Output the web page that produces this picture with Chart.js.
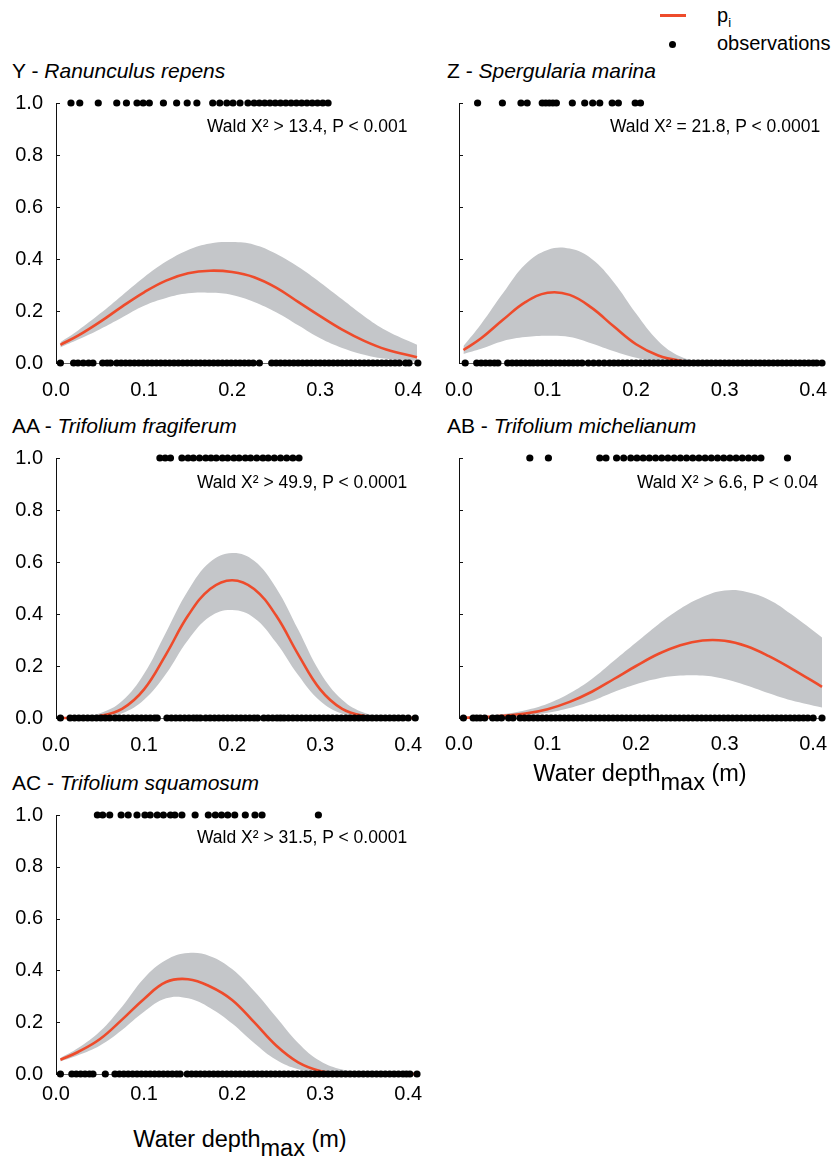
<!DOCTYPE html>
<html>
<head>
<meta charset="utf-8">
<script src="https://cdn.jsdelivr.net/npm/chart.js@4.4.1/dist/chart.umd.min.js"></script>
<style>
  body { margin: 0; background: #fff; font-family: "Liberation Sans", Arial, sans-serif; color: #000; }
  #page { position: relative; width: 835px; height: 1160px; overflow: hidden; }
  canvas { position: absolute; }
  .txt { position: absolute; white-space: nowrap; }
  .title { font-size: 21px; line-height: 21px; }
  .wald { font-size: 17.5px; line-height: 17.5px; }
  .axis-title { font-size: 23.5px; line-height: 23.5px; width: 300px; text-align: center; }
  .axis-title sub { font-size: 23.5px; vertical-align: -9px; line-height: 0; }
  .leg { font-size: 20px; line-height: 20px; }
  .leg sub { font-size: 13px; vertical-align: -5px; line-height: 0; }
  #legLine { position: absolute; left: 660px; top: 13.5px; width: 26px; height: 3px; background: #ee4b2b; }
  #legDot { position: absolute; left: 668.5px; top: 40.5px; width: 7px; height: 7px; border-radius: 50%; background: #000; }
</style>
</head>
<body>
<div id="page">
  <!-- leyenda -->
  <div id="legLine"></div>
  <div class="txt leg" style="left:717px; top:4.5px;">p<sub>i</sub></div>
  <div id="legDot"></div>
  <div class="txt leg" style="left:717px; top:32.5px;">observations</div>

  <!-- titulos de panel -->
  <div class="txt title" style="left:12px; top:60px;">Y - <i>Ranunculus repens</i></div>
  <div class="txt title" style="left:447px; top:60px;">Z - <i>Spergularia marina</i></div>
  <div class="txt title" style="left:12px; top:415px;">AA - <i>Trifolium fragiferum</i></div>
  <div class="txt title" style="left:447px; top:415px;">AB - <i>Trifolium michelianum</i></div>
  <div class="txt title" style="left:12px; top:772px;">AC - <i>Trifolium squamosum</i></div>

  <canvas id="cY" width="430" height="320" style="left:0px; top:90px;"></canvas>
  <canvas id="cZ" width="405" height="320" style="left:430px; top:90px;"></canvas>
  <canvas id="cAA" width="430" height="320" style="left:0px; top:445px;"></canvas>
  <canvas id="cAB" width="405" height="320" style="left:430px; top:445px;"></canvas>
  <canvas id="cAC" width="430" height="320" style="left:0px; top:802px;"></canvas>

  <!-- estadisticos -->
  <div class="txt wald" style="left:207px; top:118px;">Wald Χ² &gt; 13.4, P &lt; 0.001</div>
  <div class="txt wald" style="left:610px; top:118px;">Wald Χ² = 21.8, P &lt; 0.0001</div>
  <div class="txt wald" style="left:197px; top:473.5px;">Wald Χ² &gt; 49.9, P &lt; 0.0001</div>
  <div class="txt wald" style="left:637px; top:473.5px;">Wald Χ² &gt; 6.6, P &lt; 0.04</div>
  <div class="txt wald" style="left:197px; top:828.5px;">Wald Χ² &gt; 31.5, P &lt; 0.0001</div>

  <!-- titulos de eje -->
  <div class="txt axis-title" style="left:490px; top:762px;">Water depth<sub>max</sub> (m)</div>
  <div class="txt axis-title" style="left:90px; top:1128px;">Water depth<sub>max</sub> (m)</div>
</div>

<script>
// Ejes
const xTicks = [0, 0.1, 0.2, 0.3, 0.4];
const yTicks = [0, 0.2, 0.4, 0.6, 0.8, 1.0];

// Profundidad donde se evalua el modelo
const depthGrid = [0.005, 0.025, 0.05, 0.075, 0.1, 0.125, 0.15, 0.175, 0.2, 0.225, 0.25, 0.275, 0.3, 0.325, 0.35, 0.375, 0.41];

// Y - Ranunculus repens
const ranunculusFit  = [0.070, 0.105, 0.158, 0.217, 0.272, 0.317, 0.345, 0.355, 0.350, 0.330, 0.290, 0.235, 0.180, 0.128, 0.085, 0.052, 0.022];
const ranunculusLow  = [0.060, 0.090, 0.130, 0.175, 0.220, 0.250, 0.268, 0.270, 0.262, 0.235, 0.195, 0.145, 0.095, 0.058, 0.032, 0.016, 0.006];
const ranunculusHigh = [0.080, 0.125, 0.190, 0.260, 0.330, 0.390, 0.435, 0.460, 0.465, 0.455, 0.420, 0.370, 0.310, 0.245, 0.180, 0.125, 0.070];
const ranunculusPresent = [0.017, 0.027, 0.048, 0.069, 0.080, 0.092, 0.099, 0.106, 0.122, 0.137, 0.149, 0.160, 0.178, 0.186, 0.194, 0.201, 0.209, 0.218, 0.225, 0.231, 0.237, 0.243, 0.249, 0.255, 0.261, 0.267, 0.273, 0.279, 0.285, 0.291, 0.297, 0.303, 0.309];
const ranunculusAbsent = [0.005, 0.020, 0.025, 0.031, 0.037, 0.042, 0.053, 0.058, 0.062, 0.069, 0.074, 0.079, 0.084, 0.089, 0.094, 0.099, 0.104, 0.109, 0.114, 0.119, 0.124, 0.129, 0.134, 0.139, 0.144, 0.149, 0.154, 0.159, 0.164, 0.169, 0.174, 0.179, 0.184, 0.189, 0.194, 0.199, 0.204, 0.209, 0.214, 0.219, 0.224, 0.231, 0.245, 0.250, 0.255, 0.260, 0.265, 0.270, 0.275, 0.280, 0.285, 0.290, 0.295, 0.300, 0.305, 0.310, 0.315, 0.320, 0.325, 0.330, 0.335, 0.340, 0.345, 0.350, 0.355, 0.360, 0.365, 0.370, 0.375, 0.380, 0.385, 0.390, 0.397, 0.401, 0.411];

// Z - Spergularia marina
const spergulariaFit  = [0.050, 0.095, 0.167, 0.234, 0.270, 0.262, 0.212, 0.140, 0.072, 0.029, 0.009, 0.002, 0.001, 0, 0, 0, 0];
const spergulariaLow  = [0.035, 0.055, 0.085, 0.100, 0.105, 0.100, 0.075, 0.045, 0.020, 0.006, 0.001, 0, 0, 0, 0, 0, 0];
const spergulariaHigh = [0.065, 0.150, 0.270, 0.380, 0.435, 0.440, 0.400, 0.310, 0.190, 0.085, 0.025, 0.004, 0.001, 0, 0, 0, 0];
const spergulariaPresent = [0.021, 0.049, 0.070, 0.077, 0.094, 0.098, 0.102, 0.106, 0.110, 0.128, 0.142, 0.151, 0.159, 0.173, 0.180, 0.199, 0.205];
const spergulariaAbsent = [0.007, 0.020, 0.025, 0.030, 0.035, 0.040, 0.044, 0.055, 0.060, 0.065, 0.070, 0.075, 0.080, 0.084, 0.089, 0.094, 0.099, 0.104, 0.109, 0.114, 0.119, 0.124, 0.129, 0.134, 0.139, 0.146, 0.152, 0.158, 0.164, 0.170, 0.175, 0.180, 0.185, 0.190, 0.195, 0.200, 0.205, 0.210, 0.215, 0.220, 0.225, 0.230, 0.235, 0.240, 0.245, 0.250, 0.255, 0.260, 0.265, 0.270, 0.275, 0.280, 0.285, 0.290, 0.295, 0.300, 0.305, 0.310, 0.315, 0.320, 0.325, 0.330, 0.335, 0.340, 0.345, 0.350, 0.355, 0.360, 0.365, 0.370, 0.375, 0.380, 0.385, 0.390, 0.395, 0.400, 0.404, 0.410];

// AA - Trifolium fragiferum
const fragiferumFit  = [0, 0.001, 0.008, 0.035, 0.110, 0.245, 0.394, 0.496, 0.530, 0.496, 0.394, 0.245, 0.110, 0.035, 0.008, 0.001, 0];
const fragiferumLow  = [0, 0, 0.003, 0.018, 0.070, 0.170, 0.300, 0.390, 0.415, 0.385, 0.290, 0.165, 0.065, 0.016, 0.003, 0, 0];
const fragiferumHigh = [0.001, 0.004, 0.018, 0.065, 0.170, 0.330, 0.490, 0.600, 0.635, 0.605, 0.500, 0.340, 0.175, 0.070, 0.020, 0.004, 0];
const fragiferumPresent = [0.118, 0.124, 0.130, 0.143, 0.150, 0.156, 0.163, 0.170, 0.176, 0.182, 0.189, 0.195, 0.202, 0.208, 0.215, 0.221, 0.228, 0.235, 0.241, 0.248, 0.255, 0.262, 0.269, 0.276];
const fragiferumAbsent = [0.005, 0.016, 0.021, 0.026, 0.031, 0.036, 0.041, 0.046, 0.051, 0.056, 0.061, 0.067, 0.072, 0.077, 0.082, 0.087, 0.092, 0.097, 0.102, 0.107, 0.112, 0.115, 0.126, 0.131, 0.136, 0.141, 0.146, 0.151, 0.156, 0.160, 0.164, 0.170, 0.175, 0.180, 0.185, 0.190, 0.195, 0.200, 0.205, 0.210, 0.215, 0.220, 0.225, 0.229, 0.236, 0.241, 0.246, 0.251, 0.255, 0.259, 0.264, 0.269, 0.274, 0.279, 0.284, 0.289, 0.294, 0.299, 0.304, 0.309, 0.314, 0.319, 0.324, 0.329, 0.334, 0.339, 0.344, 0.349, 0.354, 0.359, 0.364, 0.369, 0.374, 0.379, 0.384, 0.389, 0.394, 0.400, 0.408];

// AB - Trifolium michelianum
const michelianumFit  = [0.001, 0.003, 0.008, 0.017, 0.034, 0.062, 0.101, 0.150, 0.200, 0.246, 0.280, 0.298, 0.297, 0.276, 0.238, 0.191, 0.120];
const michelianumLow  = [0.0005, 0.001, 0.004, 0.009, 0.020, 0.038, 0.065, 0.100, 0.130, 0.152, 0.163, 0.163, 0.150, 0.125, 0.095, 0.068, 0.040];
const michelianumHigh = [0.003, 0.007, 0.015, 0.030, 0.055, 0.095, 0.150, 0.220, 0.290, 0.360, 0.420, 0.465, 0.490, 0.485, 0.455, 0.400, 0.310];
const michelianumPresent = [0.080, 0.101, 0.159, 0.166, 0.178, 0.186, 0.194, 0.201, 0.208, 0.215, 0.222, 0.229, 0.236, 0.243, 0.250, 0.257, 0.264, 0.271, 0.278, 0.285, 0.292, 0.299, 0.306, 0.313, 0.320, 0.327, 0.334, 0.341, 0.371];
const michelianumAbsent = [0.005, 0.016, 0.020, 0.024, 0.029, 0.038, 0.043, 0.048, 0.056, 0.061, 0.069, 0.074, 0.079, 0.084, 0.089, 0.094, 0.099, 0.104, 0.109, 0.114, 0.119, 0.124, 0.129, 0.134, 0.139, 0.144, 0.149, 0.154, 0.159, 0.164, 0.169, 0.174, 0.179, 0.184, 0.189, 0.194, 0.199, 0.204, 0.209, 0.214, 0.219, 0.224, 0.229, 0.234, 0.239, 0.244, 0.249, 0.254, 0.259, 0.264, 0.269, 0.274, 0.279, 0.284, 0.289, 0.294, 0.299, 0.304, 0.309, 0.314, 0.319, 0.324, 0.329, 0.334, 0.339, 0.344, 0.349, 0.354, 0.359, 0.364, 0.369, 0.374, 0.379, 0.384, 0.389, 0.394, 0.400, 0.410];

// AC - Trifolium squamosum
const squamosumFit  = [0.055, 0.085, 0.135, 0.210, 0.290, 0.355, 0.366, 0.338, 0.286, 0.200, 0.110, 0.045, 0.012, 0.003, 0.001, 0, 0];
const squamosumLow  = [0.048, 0.072, 0.110, 0.170, 0.240, 0.292, 0.292, 0.255, 0.195, 0.120, 0.055, 0.018, 0.004, 0.001, 0, 0, 0];
const squamosumHigh = [0.062, 0.100, 0.165, 0.260, 0.370, 0.440, 0.467, 0.455, 0.405, 0.320, 0.220, 0.120, 0.050, 0.017, 0.005, 0.001, 0];
const squamosumPresent = [0.047, 0.053, 0.061, 0.074, 0.082, 0.092, 0.101, 0.107, 0.115, 0.122, 0.130, 0.135, 0.143, 0.158, 0.173, 0.181, 0.188, 0.195, 0.203, 0.215, 0.226, 0.234, 0.298];
const squamosumAbsent = [0.005, 0.018, 0.023, 0.028, 0.033, 0.038, 0.042, 0.056, 0.067, 0.072, 0.077, 0.082, 0.087, 0.092, 0.097, 0.102, 0.107, 0.112, 0.117, 0.122, 0.127, 0.132, 0.137, 0.141, 0.149, 0.154, 0.159, 0.164, 0.169, 0.174, 0.179, 0.184, 0.189, 0.194, 0.199, 0.204, 0.209, 0.214, 0.219, 0.224, 0.229, 0.234, 0.239, 0.244, 0.249, 0.254, 0.259, 0.264, 0.269, 0.274, 0.279, 0.284, 0.289, 0.294, 0.299, 0.304, 0.309, 0.314, 0.319, 0.324, 0.329, 0.334, 0.339, 0.344, 0.349, 0.354, 0.359, 0.364, 0.369, 0.374, 0.379, 0.384, 0.389, 0.394, 0.398, 0.402, 0.410];

const FONT = '"Liberation Sans", Arial, sans-serif';
const RED = '#ee4b2b';
const BAND = '#c4c6c9';

// Marcas cortas hacia adentro del eje Y
const innerTicks = {
    id: 'innerTicks',
    beforeDatasetsDraw(chart) {
        const { ctx, scales: { y } } = chart;
        ctx.save();
        ctx.strokeStyle = '#111';
        ctx.lineWidth = 1;
        yTicks.forEach(v => {
            const py = Math.round(y.getPixelForValue(v)) + 0.5;
            ctx.beginPath();
            ctx.moveTo(y.right, py);
            ctx.lineTo(y.right + 4, py);
            ctx.stroke();
        });
        ctx.restore();
    }
};

function toPoints(xs, ys) {
    return xs.map((x, i) => ({ x: x, y: ys[i] }));
}

// Dibuja un panel
function drawPanel(canvasId, fit, low, high, present, absent, cfg) {
    const canvas = document.getElementById(canvasId);
    const obs = present.map(x => ({ x: x, y: 1 })).concat(absent.map(x => ({ x: x, y: 0 })));

    return new Chart(canvas, {
        type: 'line',
        data: {
            datasets: [
                {
                    label: 'observations',
                    data: obs,
                    showLine: false,
                    pointRadius: 3.6,
                    pointBackgroundColor: '#000',
                    pointBorderWidth: 0,
                    clip: false
                },
                {
                    label: 'pi',
                    data: toPoints(depthGrid, fit),
                    borderColor: RED,
                    borderWidth: 2.6,
                    pointRadius: 0,
                    tension: 0.4,
                    fill: false,
                    clip: false
                },
                {
                    label: 'upper',
                    data: toPoints(depthGrid, high),
                    borderColor: 'rgba(0,0,0,0)',
                    borderWidth: 0,
                    pointRadius: 0,
                    backgroundColor: BAND,
                    tension: 0.4,
                    fill: '+1'
                },
                {
                    label: 'lower',
                    data: toPoints(depthGrid, low),
                    borderColor: 'rgba(0,0,0,0)',
                    borderWidth: 0,
                    pointRadius: 0,
                    tension: 0.4,
                    fill: false
                }
            ]
        },
        options: {
            responsive: false,
            animation: false,
            layout: { padding: { top: 13, right: 13, left: 0, bottom: 0 } },
            plugins: {
                legend: { display: false },
                tooltip: { enabled: false }
            },
            scales: {
                x: {
                    type: 'linear',
                    min: 0,
                    max: 0.41,
                    afterFit: s => {
                        s.height = cfg.xHeight;
                        s.paddingLeft = 0;
                        s.paddingRight = 0;
                    },
                    afterBuildTicks: s => { s.ticks = xTicks.map(v => ({ value: v })); },
                    grid: { display: false, drawTicks: false },
                    border: { display: true, color: '#6a6a6a', width: 1 },
                    ticks: {
                        padding: cfg.xPad,
                        color: '#000',
                        autoSkip: false,
                        maxRotation: 0,
                        font: { size: 20, family: FONT },
                        callback: v => v.toFixed(1)
                    }
                },
                y: {
                    type: 'linear',
                    min: 0,
                    max: 1,
                    afterFit: s => {
                        s.width = cfg.yWidth;
                        s.paddingTop = 0;
                        s.paddingBottom = 0;
                    },
                    afterBuildTicks: s => { s.ticks = yTicks.map(v => ({ value: v })); },
                    grid: { display: false, drawTicks: false },
                    border: { display: true, color: '#111', width: 1 },
                    ticks: {
                        display: cfg.yLabels,
                        padding: 13,
                        color: '#000',
                        font: { size: 20, family: FONT },
                        callback: v => v.toFixed(1)
                    }
                }
            }
        },
        plugins: [innerTicks]
    });
}

drawPanel('cY', ranunculusFit, ranunculusLow, ranunculusHigh, ranunculusPresent, ranunculusAbsent,
    { xHeight: 47, xPad: 15, yWidth: 56, yLabels: true });
drawPanel('cZ', spergulariaFit, spergulariaLow, spergulariaHigh, spergulariaPresent, spergulariaAbsent,
    { xHeight: 47, xPad: 15, yWidth: 29, yLabels: false });
drawPanel('cAA', fragiferumFit, fragiferumLow, fragiferumHigh, fragiferumPresent, fragiferumAbsent,
    { xHeight: 47, xPad: 15, yWidth: 56, yLabels: true });
drawPanel('cAB', michelianumFit, michelianumLow, michelianumHigh, michelianumPresent, michelianumAbsent,
    { xHeight: 47, xPad: 14, yWidth: 29, yLabels: false });
drawPanel('cAC', squamosumFit, squamosumLow, squamosumHigh, squamosumPresent, squamosumAbsent,
    { xHeight: 48, xPad: 8, yWidth: 56, yLabels: true });
</script>
</body>
</html>
